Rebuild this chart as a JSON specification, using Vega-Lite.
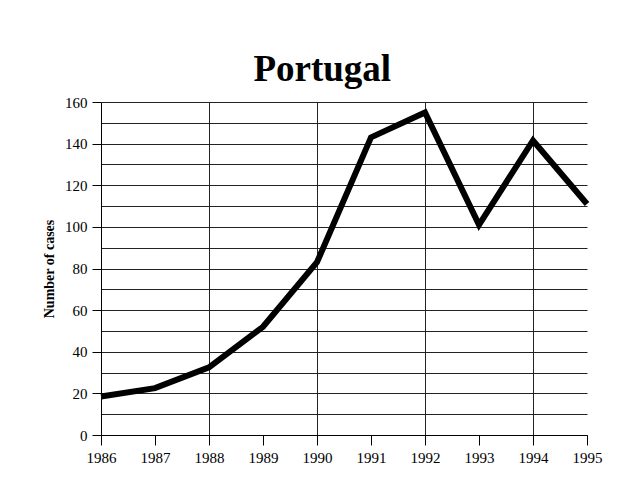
{
  "$schema": "https://vega.github.io/schema/vega-lite/v6.json",
  "width": 486,
  "height": 333,
  "autosize": {"type": "none"},
  "padding": {"left": 101, "top": 102, "right": 49, "bottom": 49},
  "background": "white",
  "title": {
    "text": "Portugal",
    "font": "Liberation Serif",
    "fontSize": 37,
    "fontWeight": "bold",
    "color": "black",
    "anchor": "middle",
    "frame": "bounds",
    "baseline": "alphabetic",
    "offset": 14,
    "dy": 37
  },
  "config": {
    "view": {"stroke": null},
    "axis": {
      "labelFont": "Liberation Serif",
      "titleFont": "Liberation Serif",
      "labelColor": "black",
      "titleColor": "black",
      "domainColor": "black",
      "tickColor": "black",
      "gridColor": "#222",
      "labelFontSize": 15
    }
  },
  "data": {
    "values": [
      {"year": 1986, "cases": 18.5},
      {"year": 1987, "cases": 22.5},
      {"year": 1988, "cases": 32.5},
      {"year": 1989, "cases": 52},
      {"year": 1990, "cases": 83},
      {"year": 1991, "cases": 143},
      {"year": 1992, "cases": 155},
      {"year": 1993, "cases": 101},
      {"year": 1994, "cases": 141.5},
      {"year": 1995, "cases": 111}
    ]
  },
  "mark": {"type": "line", "color": "black", "strokeWidth": 6, "strokeJoin": "miter", "clip": false},
  "encoding": {
    "x": {
      "field": "year",
      "type": "quantitative",
      "scale": {"domain": [1986, 1995], "nice": false, "zero": false},
      "axis": {
        "title": null,
        "values": [1986, 1987, 1988, 1989, 1990, 1991, 1992, 1993, 1994, 1995],
        "format": "d",
        "tickSize": 10,
        "labelPadding": 5,
        "grid": true,
        "gridOpacity": {"condition": {"test": "datum.value % 2 == 1 || datum.value == 1986", "value": 0}, "value": 1},
        "labelFlush": false
      }
    },
    "y": {
      "field": "cases",
      "type": "quantitative",
      "scale": {"domain": [0, 160], "nice": false},
      "axis": {
        "title": "Number of cases",
        "titleFontSize": 14,
        "titleFontWeight": "bold",
        "titlePadding": 8,
        "values": [0, 10, 20, 30, 40, 50, 60, 70, 80, 90, 100, 110, 120, 130, 140, 150, 160],
        "labelExpr": "datum.value % 20 == 0 ? datum.label : ''",
        "tickSize": 9,
        "tickOpacity": {"condition": {"test": "datum.value % 20 != 0", "value": 0}, "value": 1},
        "labelPadding": 5,
        "grid": true
      }
    }
  }
}
